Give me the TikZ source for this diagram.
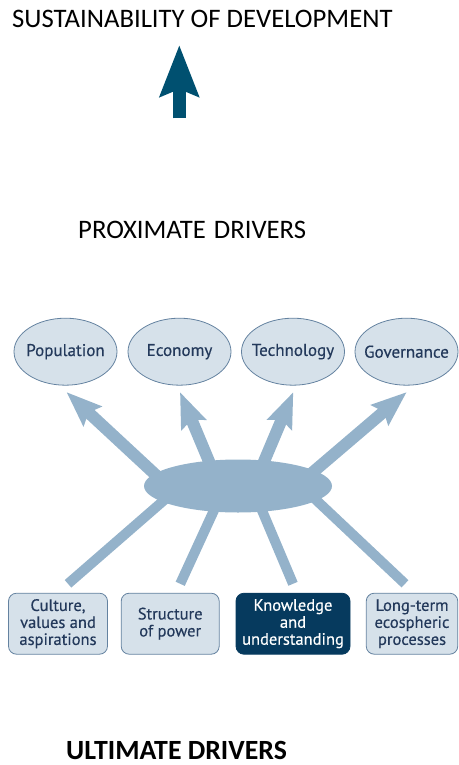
\documentclass[tikz,border=0pt]{standalone}
\usepackage{fontspec}
\setmainfont{Carlito}
\newfontfamily\frutfont[FakeBold=0.4]{PT Sans}
\usetikzlibrary{calc, arrows.meta, shapes.geometric, backgrounds}
\definecolor{deepteal}{RGB}{0,80,112}
\definecolor{paleblue}{RGB}{214,225,234}
\definecolor{edgeblue}{RGB}{100,130,160}
\definecolor{inkblue}{RGB}{35,57,91}
\definecolor{hubblue}{RGB}{148,178,202}
\definecolor{navybox}{RGB}{6,58,94}
\newcommand{\proxlabel}[1]{\makebox[50pt][c]{#1}}

\begin{document}
\begin{tikzpicture}[x=1pt, y=-1pt,
  heading/.style={font=\fontsize{26.7}{32}\selectfont, text=black, inner sep=0pt, anchor=base west},
  proxnode/.style={ellipse, draw=edgeblue, line width=0.8pt, fill=paleblue, text=inkblue,
    minimum width=103pt, minimum height=67pt, inner sep=0pt, font=\frutfont\fontsize{17}{20}\selectfont},
  hubnode/.style={ellipse, fill=hubblue, minimum width=188pt, minimum height=53pt, inner sep=0pt},
  ultbox/.style={draw=edgeblue, line width=0.8pt, fill=paleblue, text=inkblue, rounded corners=8pt,
    minimum height=61pt, inner sep=0pt, align=center, font=\frutfont\fontsize{16.5}{17}\selectfont},
  darkbox/.style={ultbox, fill=navybox, draw=navybox, text=white},
  fanarrow/.style={-{Stealth[length=35pt, width=26pt, inset=5pt]}, hubblue, line width=12pt},
  fanline/.style={hubblue, line width=10pt},
]
  \useasboundingbox (0,0) rectangle (458,765);

  % headings
  \node[heading] (title) at (12,27.3) {SUSTAINABILITY OF DEVELOPMENT};
  \node[heading] (prox) at (78,238.3) {PROXIMATE\hspace{8pt}DRIVERS};
  \node[heading, font=\fontsize{27.8}{32}\selectfont\bfseries] (ult) at (66,759.3) {ULTIMATE DRIVERS};

  % big arrow up to the title
  \coordinate (upbase) at (179.3,118.3);
  \coordinate (uptip) at (179.3,45);
  \draw[-{Stealth[length=51pt, width=38pt, inset=7pt]}, deepteal, line width=13pt] (upbase) -- (uptip);

  % proximate drivers
  \node[proxnode] (pop) at (65.5,351.7) {\proxlabel{Population}};
  \node[proxnode] (econ) at (179.5,351.7) {\proxlabel{Economy}};
  \node[proxnode] (tech) at (293,351.7) {\proxlabel{Technology}};
  \node[proxnode] (gov) at (406.5,351.7) {\proxlabel{Governance}};

  % hub
  \node[hubnode] (hub) at (238,486) {};

  % ultimate drivers
  \node[ultbox, minimum width=99pt] (cult) at (58,623.7) {Culture,\\values and\\aspirations};
  \node[ultbox, minimum width=98pt] (power) at (170.2,623.7) {Structure\\of power};
  \node[darkbox, minimum width=114pt] (know) at (293,623.7) {Knowledge\\and\\understanding};
  \node[ultbox, minimum width=91.5pt] (eco) at (412,623.7) {Long-term\\ecospheric\\processes};

  % spokes
  \coordinate (up1) at ($(hub)+(-66,4)$);
  \coordinate (up2) at ($(hub)+(-17,4)$);
  \coordinate (up3) at ($(hub)+(14,4)$);
  \coordinate (up4) at ($(hub)+(54,4)$);
  \coordinate (dn1) at ($(hub)+(-53,-4)$);
  \coordinate (dn2) at ($(hub)+(-11,-4)$);
  \coordinate (dn3) at ($(hub)+(12,-4)$);
  \coordinate (dn4) at ($(hub)+(59,-4)$);
  \coordinate (cultend) at ($(cult.north)+(10,-9)$);
  \coordinate (powerend) at ($(power.north)+(10,-9)$);
  \coordinate (knowend) at ($(know.north)+(0,-9)$);
  \coordinate (ecoend) at ($(eco.north)+(-7,-9)$);
  \begin{scope}[on background layer]
    \draw[fanarrow] (up1) -- ([xshift=1pt, yshift=-6.5pt]pop.south);
    \draw[fanarrow] (up2) -- ([xshift=0.5pt, yshift=-6.5pt]econ.south);
    \draw[fanarrow] (up3) -- ([xshift=0.3pt, yshift=-6.5pt]tech.south);
    \draw[fanarrow] (up4) -- ([xshift=0.2pt, yshift=-6.5pt]gov.south);
    \draw[fanline] (dn1) -- (cultend);
    \draw[fanline] (dn2) -- (powerend);
    \draw[fanline] (dn3) -- (knowend);
    \draw[fanline] (dn4) -- (ecoend);
  \end{scope}
\end{tikzpicture}
\end{document}
